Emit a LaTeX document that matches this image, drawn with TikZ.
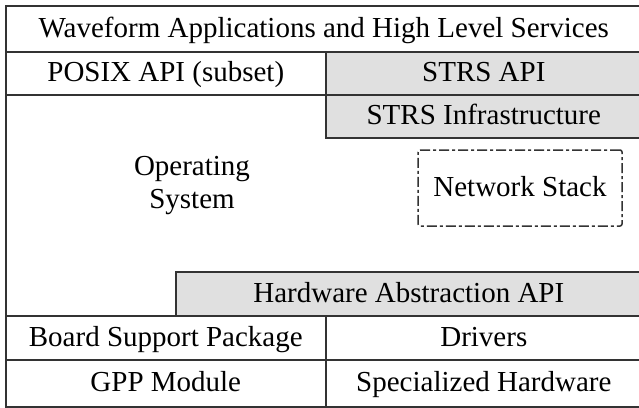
\documentclass[tikz,border=0pt]{standalone}
\usepackage{fontspec}
\setmainfont{Liberation Serif}
\begin{document}
\begin{tikzpicture}[x=1pt,y=-1pt,
  blk/.style={draw=black!80, line width=1.6pt, inner sep=0pt, anchor=north west,
    font=\fontsize{29}{33}\selectfont, text=black, text height=20pt, text depth=3pt},
  grayblk/.style={blk, fill=black!12},
  txt/.style={inner sep=0pt, font=\fontsize{29}{33}\selectfont, text=black, align=center},
  dashbox/.style={draw=black!80, line width=1.5pt, rounded corners=2pt,
    dash pattern=on 10pt off 3pt on 3pt off 3pt, inner sep=0pt,
    font=\fontsize{29}{33}\selectfont, text=black, text height=20pt, text depth=3pt}
]
\useasboundingbox (0,0) rectangle (639,407);
% title row
\node[blk, minimum width=636pt, minimum height=46pt] (title) at (5,5)
  {Waveform Applications and High Level Services};
% second row
\node[blk, minimum width=320pt, minimum height=43pt] (posix) at (5,51)
  {POSIX API (subset)};
\node[grayblk, minimum width=316pt, minimum height=43pt] (strsapi) at (325,51)
  {STRS API};
% operating system region
\node[blk, minimum width=636pt, minimum height=221pt] (os) at (5,94) {};
\node[txt] (oslabel) at (192,186) {Operating\\System};
\node[grayblk, minimum width=316pt, minimum height=43pt] (strsinfra) at (325,94)
  {STRS Infrastructure};
\node[dashbox, minimum width=204pt, minimum height=76pt, anchor=center] (net) at (520,188)
  {Network Stack};
\node[grayblk, minimum width=466pt, minimum height=44pt] (hal) at (175,271)
  {Hardware Abstraction API};
% bottom rows
\node[blk, minimum width=320pt, minimum height=44pt] (bsp) at (5,315)
  {Board Support Package};
\node[blk, minimum width=316pt, minimum height=44pt] (drv) at (325,315)
  {Drivers};
\node[blk, minimum width=320pt, minimum height=47pt] (gpp) at (5,359)
  {GPP Module};
\node[blk, minimum width=316pt, minimum height=47pt] (spec) at (325,359)
  {Specialized Hardware};
\end{tikzpicture}
\end{document}
